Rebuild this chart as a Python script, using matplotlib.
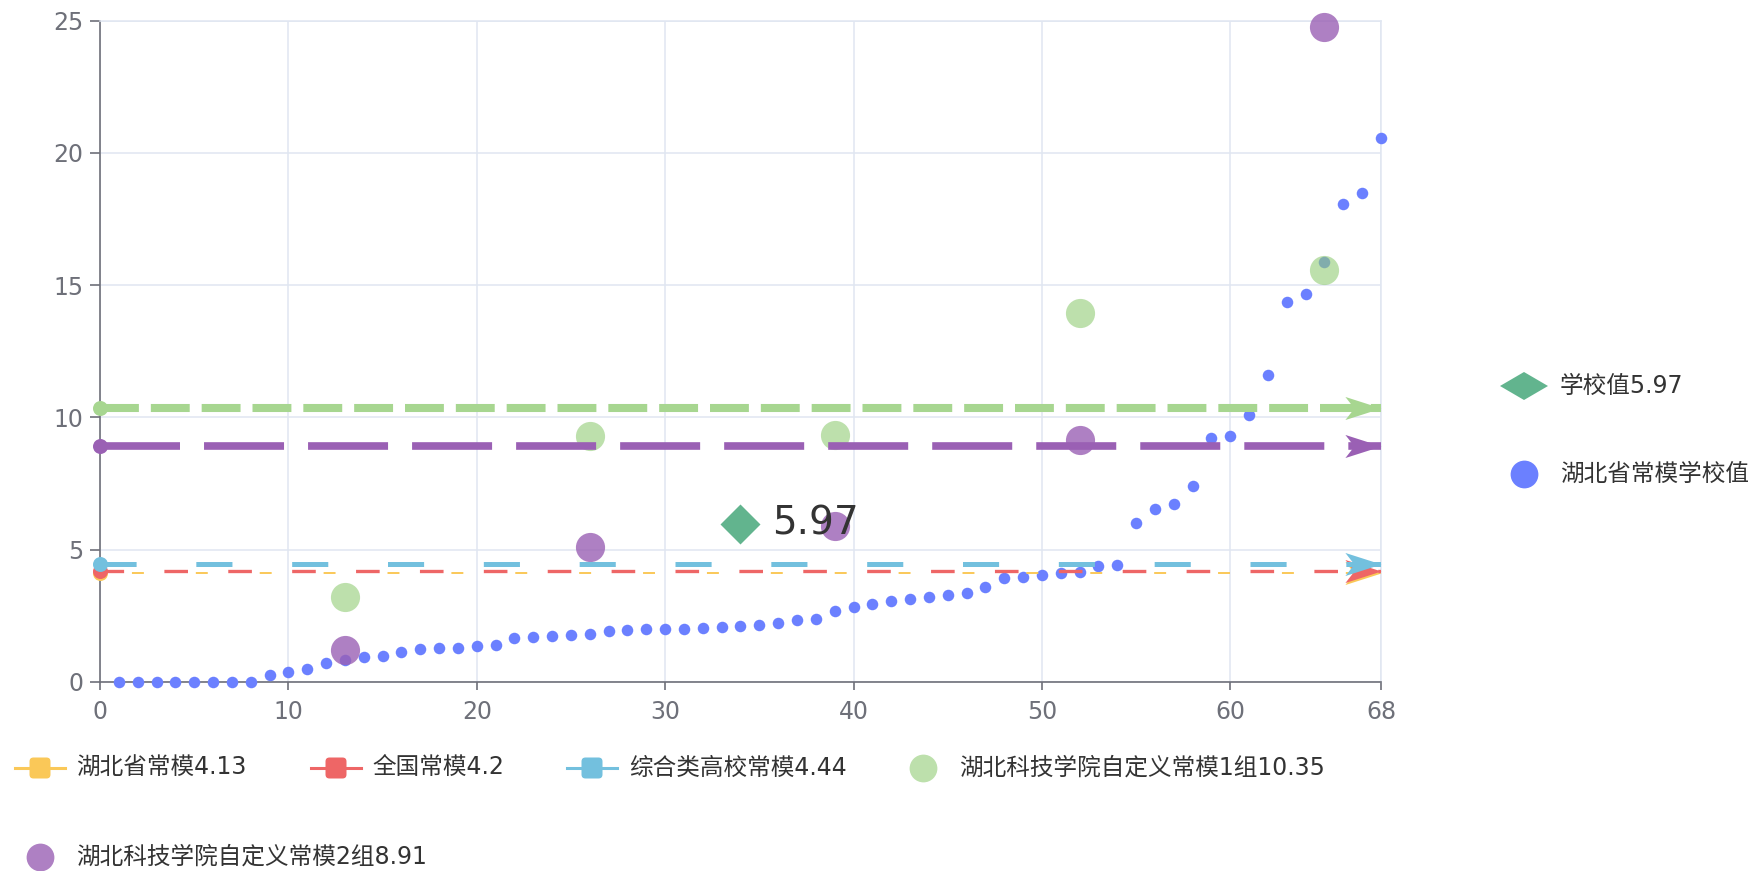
import matplotlib
matplotlib.use('Agg')
import matplotlib.pyplot as plt
from matplotlib.path import Path
from matplotlib.lines import Line2D
from matplotlib.patches import FancyBboxPatch, Polygon
from matplotlib.transforms import IdentityTransform

plt.rcParams['font.family'] = ['DejaVu Sans', 'Noto Sans CJK SC']
plt.rcParams['lines.scale_dashes'] = False

# data
school_x = list(range(1, 69))
province_values = [0, 0, 0, 0, 0, 0, 0, 0, 0.25, 0.35,
                   0.48, 0.72, 0.82, 0.93, 0.96, 1.12, 1.23, 1.26, 1.28, 1.35,
                   1.40, 1.67, 1.69, 1.72, 1.75, 1.80, 1.93, 1.96, 2.0, 2.0,
                   2.0, 2.03, 2.05, 2.09, 2.15, 2.23, 2.32, 2.39, 2.68, 2.82,
                   2.95, 3.05, 3.11, 3.22, 3.29, 3.35, 3.57, 3.92, 3.96, 4.03,
                   4.13, 4.14, 4.38, 4.43, 6.01, 6.54, 6.73, 7.41, 9.2, 9.28,
                   10.08, 11.6, 14.37, 14.66, 15.86, 18.07, 18.5, 20.58]
group_x = [13, 26, 39, 52, 65]
group1_values = [3.2, 9.3, 9.33, 13.94, 15.57]
group2_values = [1.2, 5.09, 5.89, 9.15, 24.75]
school_pos = 34
school_value = 5.97

norm_names = ['湖北省常模4.13', '全国常模4.2', '综合类高校常模4.44',
              '湖北科技学院自定义常模1组10.35', '湖北科技学院自定义常模2组8.91']
norm_values = [4.13, 4.2, 4.44, 10.35, 8.91]
norm_colors = ['#fac858', '#ee6666', '#73c0de', '#a7d690', '#9a60b4']
# (linewidth, offset, (on, off)) in points
norm_styles = [(1.4, 23, (8.6, 37.4)), (2.4, 0, (17, 29)), (3.6, 0, (26, 43)),
               (5.8, 0, (28, 8.6)), (5.5, 0, (57.6, 17.3))]

x_ticks = [0, 10, 20, 30, 40, 50, 60, 68]
y_ticks = [0, 5, 10, 15, 20, 25]

W, H = 1765, 871
fig = plt.figure(figsize=(W / 100, H / 100), dpi=100)
ax = fig.add_axes([100 / W, 1 - 681.7 / H, (1381 - 100) / W, (681.7 - 20.7) / H])

axis_col = '#6e7079'
grid_col = '#e0e6f1'

arrow = Path([(0, 0), (-1, 0.32), (-0.75, 0), (-1, -0.32), (0, 0)],
             [Path.MOVETO, Path.LINETO, Path.LINETO, Path.LINETO, Path.CLOSEPOLY])
diamond = Path([(0, 1), (1, 0), (0, -1), (-1, 0), (0, 1)],
               [Path.MOVETO, Path.LINETO, Path.LINETO, Path.LINETO, Path.CLOSEPOLY])

ax.scatter(school_x, province_values, s=69, color='#6b80ff', linewidths=0, zorder=3, clip_on=False)
ax.scatter(group_x, group1_values, s=441, color='#91cc75', alpha=0.6, linewidths=0, zorder=4, clip_on=False)
ax.scatter(group_x, group2_values, s=441, color='#9a60b4', alpha=0.8, linewidths=0, zorder=4, clip_on=False)

for i, (v, c, st) in enumerate(zip(norm_values, norm_colors, norm_styles)):
    lw, off, pat = st
    z = 5 + i * 0.1
    ax.plot([0, 68], [v, v], color=c, lw=lw, linestyle=(off, pat), zorder=z)
    ax.plot([0], [v], marker='o', ms=10.8, color=c, mec='none', zorder=z, clip_on=False)
    ax.plot([68], [v], marker=arrow, ms=52, color=c, mec='none', zorder=z, clip_on=False)

ax.plot([school_pos], [school_value], marker=diamond, ms=28.8, color='#3ba272', alpha=0.8,
        mec='none', zorder=7, linestyle='none')
ax.annotate(f'{school_value}', (school_pos, school_value), xytext=(22.8, 0),
            textcoords='offset points', va='center', ha='left', fontsize=28,
            color='#333333', zorder=8)

ax.set_xlim(0, 68)
ax.set_ylim(0, 25)
ax.set_xticks(x_ticks)
ax.set_yticks(y_ticks)
ax.grid(True, color=grid_col, lw=1.1, zorder=0)
ax.set_axisbelow(True)
for s in ['top', 'right']:
    ax.spines[s].set_color(grid_col)
    ax.spines[s].set_linewidth(1.1)
for s in ['left', 'bottom']:
    ax.spines[s].set_color(axis_col)
    ax.spines[s].set_linewidth(1.2)
ax.tick_params(axis='x', length=6, width=1.2, color=axis_col, labelcolor=axis_col,
               labelsize=17, pad=7)
ax.tick_params(axis='y', length=7, width=1.2, color=axis_col, labelcolor=axis_col,
               labelsize=17, pad=5)

# legend, drawn in pixel coordinates
ident = IdentityTransform()


def legend_text(x, y, s):
    fig.text(x / W, 1 - y / H, s, va='center', ha='left', fontsize=17, color='#333333')


def line_icon(cx, y, c):
    fig.add_artist(Line2D([cx - 25, cx + 25], [H - y, H - y], lw=2.2, color=c, transform=ident))
    fig.add_artist(FancyBboxPatch((cx - 10.5, H - y - 10.5), 21, 21,
                                  boxstyle='round,pad=0,rounding_size=4',
                                  color=c, lw=0, transform=ident))


def dot_icon(cx, y, c, a):
    fig.add_artist(Line2D([cx], [H - y], marker='o', ms=20, color=c, alpha=a,
                          mec='none', transform=ident))


line_icon(40, 768, norm_colors[0])
legend_text(76, 768, norm_names[0])
line_icon(336, 768, norm_colors[1])
legend_text(372, 768, norm_names[1])
line_icon(592, 768, norm_colors[2])
legend_text(629, 768, norm_names[2])
dot_icon(923, 768, '#91cc75', 0.6)
legend_text(959, 768, norm_names[3])
dot_icon(40, 857, '#9a60b4', 0.8)
legend_text(76, 857, norm_names[4])

fig.add_artist(Polygon([(1500, H - 386), (1524, H - 372), (1548, H - 386), (1524, H - 400)],
                       closed=True, color='#3ba272', alpha=0.8, lw=0, transform=ident))
legend_text(1560, 386, f'学校值{school_value}')
dot_icon(1524, 474, '#6b80ff', 1.0)
legend_text(1560, 474, '湖北省常模学校值')

fig.savefig('out.png', dpi=100)
